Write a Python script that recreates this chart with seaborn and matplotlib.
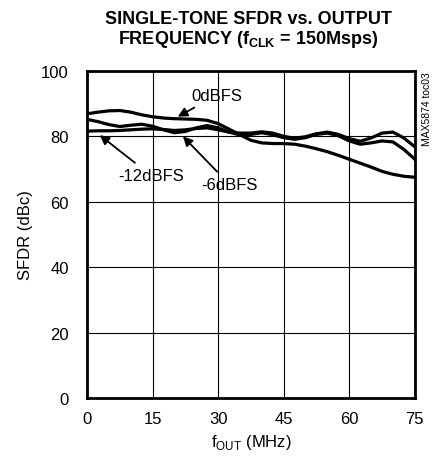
import pandas as pd
import matplotlib
matplotlib.use('Agg')
import matplotlib.pyplot as plt
import seaborn as sns

# frequencies (MHz) and SFDR (dBc)
freq = [0, 2.5, 5, 7.5, 10, 12.5, 15, 17.5, 20, 22.5, 25, 27.5, 30, 32.5, 35, 37.5,
        40, 42.5, 45, 47.5, 50, 52.5, 55, 57.5, 60, 62.5, 65, 67.5, 70, 72.5, 75]
sfdr_0dbfs = [86.9, 87.4, 87.8, 87.9, 87.4, 86.6, 86.0, 85.6, 85.4, 85.3, 85.2, 84.9,
              83.9, 82.2, 80.5, 78.8, 78.0, 77.8, 77.8, 77.6, 77.0, 76.2, 75.3, 74.2,
              73.0, 71.8, 70.6, 69.3, 68.4, 67.8, 67.5]
sfdr_6dbfs = [85.2, 84.5, 83.6, 83.0, 83.4, 83.7, 83.1, 82.0, 81.1, 81.5, 82.6, 83.3,
              82.6, 81.3, 80.4, 80.6, 81.1, 80.5, 79.6, 79.1, 79.6, 80.6, 81.0, 80.2,
              78.6, 77.6, 78.0, 78.6, 78.3, 76.0, 73.0]
sfdr_12dbfs = [81.6, 81.7, 81.7, 81.8, 82.0, 82.2, 82.3, 82.1, 81.8, 82.0, 82.4, 82.6,
               82.0, 81.3, 81.0, 81.0, 81.4, 81.0, 80.0, 79.4, 79.9, 80.8, 81.3, 80.6,
               79.3, 78.5, 79.5, 81.0, 81.3, 79.5, 76.8]
x_ticks = [0, 15, 30, 45, 60, 75]
y_ticks = [0, 20, 40, 60, 80, 100]

df = pd.DataFrame({
    'f': freq * 3,
    'sfdr': sfdr_0dbfs + sfdr_6dbfs + sfdr_12dbfs,
    'level': ['0dBFS'] * len(freq) + ['-6dBFS'] * len(freq) + ['-12dBFS'] * len(freq),
})

sns.set_style('white')
plt.rcParams['font.family'] = ['Liberation Sans', 'DejaVu Sans']
plt.rcParams['mathtext.fontset'] = 'custom'
plt.rcParams['mathtext.rm'] = 'Liberation Sans'
plt.rcParams['mathtext.bf'] = 'Liberation Sans:bold'
plt.rcParams['text.color'] = 'black'
plt.rcParams['axes.labelcolor'] = 'black'
plt.rcParams['xtick.color'] = 'black'
plt.rcParams['ytick.color'] = 'black'

fig = plt.figure(figsize=(4.33, 4.6), dpi=100)
ax = fig.add_axes([0.201, 0.1326, 0.757, 0.711])

sns.lineplot(data=df, x='f', y='sfdr', units='level', estimator=None,
             color='black', linewidth=2.3, ax=ax, legend=False)

ax.set_xlim(0, 75)
ax.set_ylim(0, 100)
ax.set_xticks(x_ticks)
ax.set_yticks(y_ticks)
ax.grid(True, color='black', linewidth=0.8)
ax.tick_params(length=0, labelsize=12)
ax.tick_params(axis='x', pad=9)
ax.tick_params(axis='y', pad=13)
for s in ax.spines.values():
    s.set_linewidth(2)
    s.set_color('black')

ax.set_xlabel('f$_{\\mathregular{OUT}}$ (MHz)', fontsize=12, labelpad=5)
ax.set_ylabel('SFDR (dBc)', fontsize=12, labelpad=6)
fig.text(0.574, 0.975, 'SINGLE-TONE SFDR vs. OUTPUT\nFREQUENCY (f$_{\\mathbf{CLK}}$ = 150Msps)',
         ha='center', va='top', fontsize=13, fontweight='bold', linespacing=1.05)

arrow = dict(arrowstyle='-|>', color='black', lw=1.3, mutation_scale=14)
ax.annotate('0dBFS', xy=(20.2, 85.6), xytext=(29.6, 92.5), fontsize=12,
            ha='center', va='center', arrowprops=arrow)
ax.annotate('-12dBFS', xy=(2.4, 80.9), xytext=(14.6, 68.1), fontsize=12,
            ha='center', va='center', arrowprops=arrow)
ax.annotate('-6dBFS', xy=(21.5, 80.6), xytext=(32.6, 65.3), fontsize=12,
            ha='center', va='center', arrowprops=arrow)

fig.text(0.986, 0.843, 'MAX5874 toc03', rotation=90, ha='center', va='top', fontsize=7.5)

fig.savefig('out.png', dpi=100)
